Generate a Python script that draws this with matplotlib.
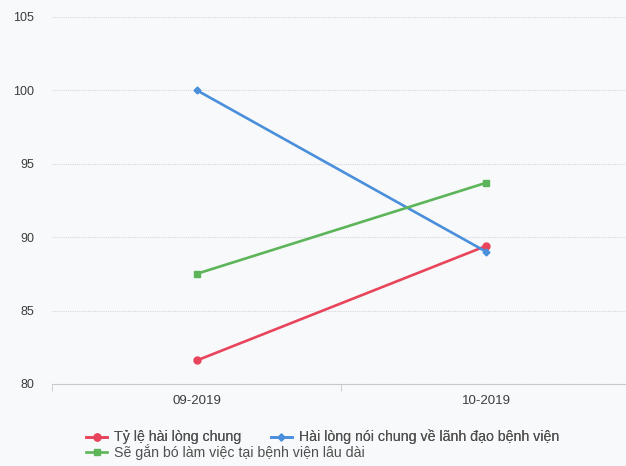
import matplotlib.pyplot as plt

plt.rcParams['font.family'] = ['Liberation Sans', 'DejaVu Sans']

# survey months and satisfaction scores (%)
months = ['09-2019', '10-2019']
ty_le_hai_long = [81.6, 89.4]
hai_long_lanh_dao = [100.0, 89.0]
gan_bo_lau_dai = [87.5, 93.7]

labels = ['Tỷ lệ hài lòng chung',
          'Hài lòng nói chung về lãnh đạo bệnh viện',
          'Sẽ gắn bó làm việc tại bệnh viện lâu dài']
yticks = [80, 85, 90, 95, 100, 105]

bg = '#f8f9fa'
fig = plt.figure(figsize=(6.26, 4.66), dpi=100, facecolor=bg)
ax = fig.add_axes([0.083, 0.176, 0.925, 0.788], facecolor=bg)

x = list(range(len(months)))
l_red, = ax.plot(x, ty_le_hai_long, color='#e8455c', lw=1.9, marker='o', ms=5)
l_blue, = ax.plot(x, hai_long_lanh_dao, color='#4a8fdc', lw=1.9, marker='D', ms=3.5)
l_green, = ax.plot(x, gan_bo_lau_dai, color='#5db55a', lw=1.9, marker='s', ms=4.5)

ax.set_xlim(-0.5, 1.5)
ax.set_ylim(80, 105)
ax.set_yticks(yticks)
ax.set_xticks(x)
ax.set_xticklabels(months)
ax.grid(axis='y', color='#d6d8db', lw=0.8, linestyle=(0, (1, 1)))
ax.set_axisbelow(True)

for s in ['top', 'right', 'left']:
    ax.spines[s].set_visible(False)
ax.spines['bottom'].set_color('#c8c8c8')

# category boundaries get the tick marks
ax.set_xticks([-0.5, 0.5, 1.5], minor=True)
ax.tick_params(axis='x', which='major', length=0, pad=8, labelsize=9.5, labelcolor='#3c3c3c')
ax.tick_params(axis='x', which='minor', length=5, color='#c8c8c8')
ax.tick_params(axis='y', length=0, pad=13, labelsize=9, labelcolor='#3c3c3c')

# legend flows left to right: two items on the first row, one on the second
leg_kw = dict(loc='upper left', frameon=False, fontsize=10.2, handlelength=1.45,
              handletextpad=0.5, borderaxespad=0, borderpad=0, labelcolor='#505050')
leg1 = fig.legend([l_red, l_blue], [labels[0], labels[1]], ncol=2,
                  bbox_to_anchor=(0.138, 0.078), columnspacing=2.1, **leg_kw)
fig.add_artist(leg1)
fig.legend([l_green], [labels[2]], bbox_to_anchor=(0.138, 0.047), **leg_kw)

fig.savefig('out.png', dpi=100, facecolor=bg)
